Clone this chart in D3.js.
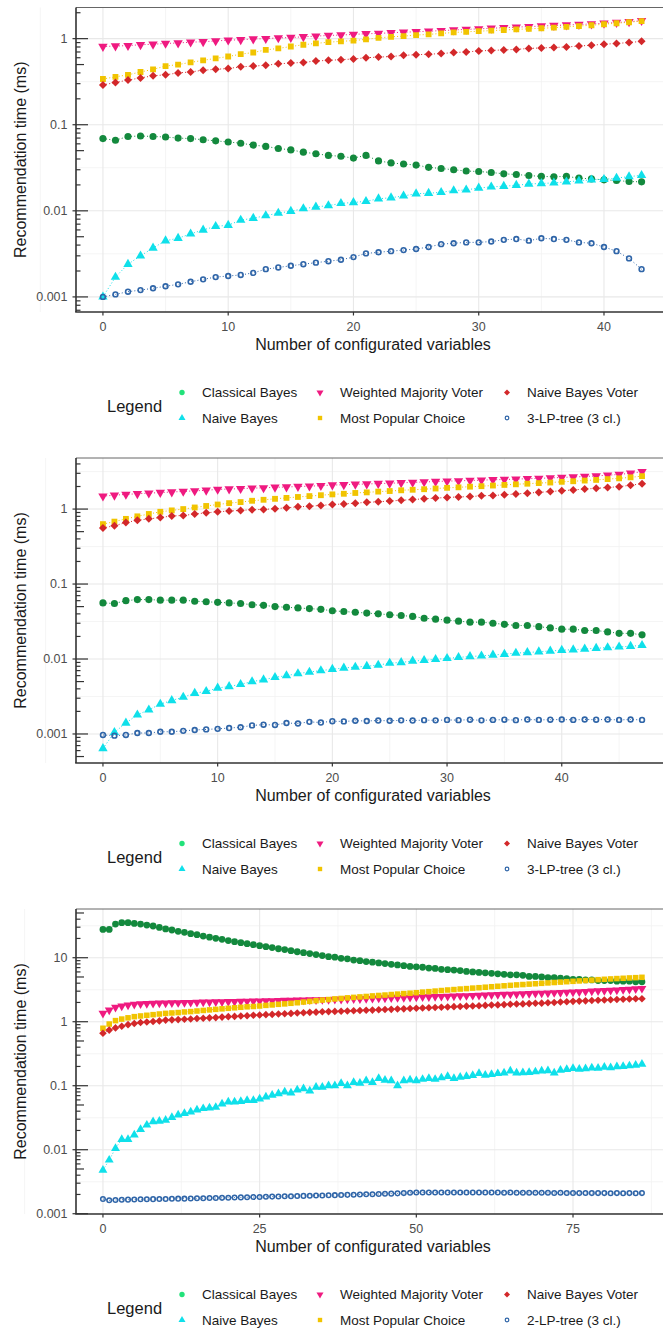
<!DOCTYPE html>
<html>
<head>
  <meta charset="utf-8">
  <title></title>
  <script src="https://cdn.jsdelivr.net/npm/d3@7/dist/d3.min.js"></script>
  <style>
    body { margin: 0; background: #fff; }
    svg { display: block; font-family: "Liberation Sans", Arial, sans-serif; }
    .tick-label { fill: #4d4d4d; font-size: 12.5px; }
    .axis-title { fill: #1a1a1a; font-size: 16px; }
    .legend-text { fill: #1a1a1a; font-size: 13.5px; }
    .legend-title { fill: #1a1a1a; font-size: 16.5px; }
  </style>
</head>
<body>
<div id="chart"></div>
<script>

// ---- data: panel 1 (x = 0..43) ----
var p1X = d3.range(0, 44);
var p1ClassicalBayes = [0.069,0.066,0.073,0.074,0.073,0.072,0.070,0.069,0.067,0.065,0.063,0.061,0.058,0.056,0.053,0.051,0.048,0.046,0.044,0.043,0.041,0.044,0.038,0.036,0.035,0.034,0.032,0.031,0.030,0.029,0.0286,0.0279,0.0269,0.0264,0.0257,0.0251,0.0249,0.0251,0.024,0.0235,0.0229,0.0225,0.0219,0.0217];
var p1NaiveBayes = [0.001,0.0017,0.0024,0.003,0.0037,0.0045,0.0048,0.0054,0.006,0.0066,0.0068,0.0078,0.0082,0.0088,0.0094,0.0099,0.0106,0.0111,0.0115,0.0122,0.0125,0.0129,0.0138,0.0142,0.0149,0.0158,0.016,0.0164,0.0172,0.0175,0.0184,0.019,0.0193,0.0198,0.0205,0.0208,0.0211,0.0217,0.0223,0.0229,0.0232,0.024,0.025,0.0258];
var p1WeightedMajority = [0.81,0.82,0.83,0.85,0.86,0.88,0.89,0.91,0.92,0.94,0.96,0.97,0.99,1.0,1.02,1.03,1.05,1.07,1.09,1.1,1.12,1.14,1.15,1.17,1.19,1.2,1.22,1.24,1.26,1.28,1.3,1.32,1.34,1.36,1.38,1.4,1.42,1.44,1.46,1.48,1.51,1.54,1.57,1.62];
var p1MostPopular = [0.34,0.36,0.38,0.41,0.44,0.48,0.5,0.53,0.56,0.59,0.62,0.66,0.69,0.74,0.77,0.81,0.85,0.88,0.91,0.93,0.95,0.98,1.02,1.05,1.07,1.1,1.12,1.15,1.18,1.2,1.22,1.24,1.26,1.28,1.3,1.32,1.34,1.37,1.4,1.43,1.47,1.51,1.55,1.6];
var p1NaiveVoter = [0.29,0.31,0.33,0.35,0.37,0.38,0.4,0.41,0.43,0.44,0.45,0.47,0.48,0.49,0.51,0.52,0.53,0.55,0.56,0.57,0.58,0.6,0.61,0.62,0.64,0.65,0.66,0.67,0.69,0.7,0.72,0.73,0.74,0.75,0.77,0.78,0.79,0.8,0.82,0.84,0.86,0.88,0.9,0.93];
var p1LPTree = [0.001,0.00107,0.00115,0.0012,0.00126,0.00133,0.0014,0.0015,0.0016,0.0017,0.00175,0.0018,0.0019,0.0021,0.0022,0.0023,0.0024,0.0025,0.0026,0.0027,0.0029,0.0032,0.0033,0.0034,0.0035,0.0036,0.0038,0.0041,0.0042,0.0043,0.0043,0.0044,0.0046,0.0047,0.0045,0.0048,0.0047,0.0046,0.0043,0.0042,0.0038,0.0034,0.0028,0.0021];

// ---- data: panel 2 (x = 0..47) ----
var p2X = d3.range(0, 48);
var p2ClassicalBayes = [0.056,0.055,0.06,0.062,0.062,0.061,0.061,0.061,0.059,0.058,0.057,0.056,0.055,0.053,0.052,0.05,0.049,0.048,0.047,0.046,0.044,0.043,0.042,0.041,0.04,0.039,0.038,0.037,0.035,0.034,0.033,0.032,0.031,0.031,0.03,0.029,0.028,0.028,0.027,0.026,0.025,0.025,0.024,0.024,0.023,0.022,0.022,0.021];
var p2NaiveBayes = [0.00064,0.00105,0.0014,0.0018,0.0021,0.0025,0.0028,0.0031,0.0035,0.0037,0.0041,0.0043,0.0046,0.005,0.0053,0.0057,0.006,0.0064,0.0067,0.007,0.0073,0.0076,0.0078,0.008,0.0083,0.0088,0.009,0.0094,0.0096,0.0099,0.0102,0.0105,0.0108,0.011,0.0113,0.0116,0.012,0.0122,0.0125,0.0128,0.0131,0.0133,0.0136,0.0139,0.0142,0.0145,0.0148,0.0152];
var p2WeightedMajority = [1.49,1.53,1.57,1.6,1.63,1.66,1.69,1.72,1.75,1.78,1.83,1.85,1.87,1.9,1.92,1.95,1.97,2.0,2.02,2.05,2.09,2.11,2.14,2.16,2.19,2.21,2.24,2.27,2.3,2.33,2.36,2.38,2.41,2.43,2.46,2.48,2.51,2.54,2.57,2.6,2.64,2.68,2.72,2.77,2.83,2.9,3.0,3.15];
var p2MostPopular = [0.63,0.68,0.74,0.8,0.86,0.92,0.96,1.0,1.05,1.1,1.15,1.2,1.24,1.29,1.33,1.37,1.41,1.45,1.49,1.53,1.57,1.6,1.64,1.67,1.71,1.74,1.78,1.81,1.84,1.88,1.92,1.95,1.99,2.02,2.06,2.1,2.14,2.18,2.22,2.26,2.31,2.35,2.4,2.45,2.51,2.57,2.65,2.75];
var p2NaiveVoter = [0.56,0.6,0.66,0.71,0.74,0.77,0.81,0.82,0.86,0.89,0.92,0.94,0.96,0.98,0.99,1.01,1.04,1.07,1.09,1.12,1.15,1.17,1.2,1.23,1.25,1.28,1.31,1.34,1.37,1.4,1.43,1.45,1.47,1.5,1.52,1.55,1.59,1.63,1.67,1.71,1.76,1.8,1.85,1.89,1.94,1.99,2.08,2.18];
var p2LPTree = [0.00097,0.00095,0.00097,0.00103,0.00103,0.00107,0.00107,0.0011,0.00113,0.00115,0.00117,0.0012,0.00123,0.0013,0.00133,0.00132,0.0014,0.00138,0.00145,0.00142,0.00148,0.00147,0.0015,0.00149,0.00151,0.0015,0.00152,0.00151,0.00153,0.00152,0.00154,0.00153,0.00155,0.00152,0.00154,0.00155,0.00153,0.00156,0.00154,0.00155,0.00156,0.00154,0.00156,0.00155,0.00156,0.00154,0.00156,0.00154];

// ---- data: panel 3 (x = 0..86) ----
var p3X = d3.range(0, 87);
var p3ClassicalBayes = [27.7,27.7,33.6,35.3,35.3,34.4,33.6,32.4,31.3,29.7,28.2,27.1,25.8,24.9,23.7,22.9,21.8,20.9,20.1,19.4,18.5,17.8,17.2,16.6,16.0,15.4,14.9,14.4,13.8,13.4,12.9,12.4,12.0,11.6,11.2,10.8,10.4,10.2,9.8,9.6,9.2,9.0,8.7,8.5,8.3,8.1,7.9,7.7,7.5,7.3,7.2,7.1,6.9,6.8,6.6,6.5,6.4,6.3,6.1,6.0,5.9,5.8,5.7,5.6,5.5,5.4,5.4,5.3,5.1,5.1,5.0,4.9,4.9,4.8,4.7,4.6,4.6,4.5,4.5,4.4,4.4,4.4,4.3,4.3,4.3,4.2,4.2];
var p3NaiveBayes = [0.0048,0.0069,0.0105,0.0145,0.0145,0.017,0.0208,0.0243,0.0274,0.028,0.029,0.032,0.035,0.037,0.039,0.042,0.044,0.045,0.046,0.052,0.056,0.056,0.057,0.059,0.059,0.062,0.067,0.071,0.075,0.08,0.077,0.086,0.09,0.083,0.095,0.095,0.1,0.1,0.109,0.1,0.113,0.11,0.12,0.113,0.13,0.122,0.12,0.1,0.12,0.123,0.12,0.126,0.13,0.126,0.133,0.14,0.13,0.136,0.14,0.145,0.156,0.146,0.15,0.155,0.158,0.17,0.158,0.16,0.162,0.165,0.17,0.172,0.158,0.175,0.18,0.187,0.182,0.185,0.19,0.188,0.195,0.192,0.198,0.2,0.205,0.21,0.218];
var p3WeightedMajority = [1.35,1.52,1.68,1.76,1.82,1.87,1.9,1.92,1.94,1.95,1.96,1.97,1.98,1.99,2.0,2.01,2.02,2.03,2.04,2.05,2.06,2.07,2.08,2.09,2.1,2.11,2.12,2.13,2.14,2.15,2.16,2.17,2.18,2.19,2.2,2.21,2.22,2.23,2.24,2.25,2.27,2.28,2.3,2.31,2.33,2.34,2.36,2.37,2.39,2.4,2.42,2.44,2.45,2.47,2.48,2.5,2.52,2.53,2.55,2.57,2.59,2.61,2.63,2.65,2.67,2.69,2.71,2.73,2.75,2.77,2.79,2.81,2.84,2.86,2.89,2.91,2.94,2.97,3.0,3.03,3.06,3.09,3.13,3.17,3.21,3.26,3.31];
var p3MostPopular = [0.79,0.92,1.04,1.1,1.15,1.2,1.23,1.26,1.29,1.32,1.35,1.37,1.39,1.42,1.44,1.47,1.5,1.53,1.56,1.59,1.62,1.65,1.68,1.71,1.73,1.76,1.8,1.83,1.87,1.9,1.94,1.98,2.03,2.08,2.13,2.18,2.22,2.27,2.31,2.36,2.4,2.44,2.48,2.53,2.57,2.61,2.66,2.7,2.75,2.79,2.84,2.9,2.95,3.01,3.07,3.13,3.18,3.24,3.29,3.35,3.4,3.46,3.52,3.58,3.64,3.7,3.76,3.81,3.87,3.92,3.98,4.04,4.1,4.16,4.22,4.28,4.34,4.41,4.47,4.54,4.6,4.66,4.72,4.77,4.83,4.88,4.94];
var p3NaiveVoter = [0.66,0.74,0.8,0.85,0.9,0.94,0.97,0.99,1.01,1.03,1.06,1.07,1.08,1.09,1.1,1.12,1.13,1.15,1.16,1.18,1.2,1.21,1.23,1.24,1.26,1.27,1.29,1.3,1.32,1.33,1.35,1.37,1.38,1.4,1.41,1.43,1.44,1.45,1.46,1.47,1.48,1.5,1.51,1.52,1.54,1.55,1.56,1.58,1.59,1.61,1.62,1.64,1.65,1.67,1.68,1.7,1.72,1.73,1.75,1.76,1.78,1.8,1.82,1.83,1.85,1.87,1.89,1.9,1.92,1.94,1.95,1.98,2.0,2.03,2.05,2.08,2.1,2.12,2.14,2.16,2.18,2.2,2.22,2.24,2.26,2.28,2.29];
var p3LPTree = [0.0017,0.00162,0.00164,0.00165,0.00166,0.00167,0.00168,0.00168,0.00169,0.0017,0.0017,0.00171,0.00172,0.00172,0.00173,0.00174,0.00175,0.00176,0.00176,0.00177,0.00178,0.00179,0.0018,0.00181,0.00182,0.00183,0.00184,0.00185,0.00186,0.00187,0.00188,0.00189,0.0019,0.00191,0.00192,0.00193,0.00194,0.00195,0.00196,0.00197,0.00198,0.002,0.00201,0.00202,0.00203,0.00205,0.00206,0.00208,0.0021,0.00212,0.00214,0.00215,0.00214,0.00215,0.00214,0.00215,0.00215,0.00214,0.00215,0.00214,0.00214,0.00215,0.00214,0.00214,0.00213,0.00214,0.00213,0.00213,0.00212,0.00213,0.00212,0.00212,0.00211,0.00212,0.00211,0.00211,0.0021,0.00211,0.0021,0.0021,0.0021,0.00209,0.0021,0.00209,0.0021,0.00209,0.0021];

// ---- ticks and labels ----
var p12XTicks = [0, 10, 20, 30, 40];
var p3XTicks = [0, 25, 50, 75];
var p12YTicks = [0.001, 0.01, 0.1, 1];
var p12YLabels = ['0.001', '0.01', '0.1', '1'];
var p3YTicks = [0.001, 0.01, 0.1, 1, 10];
var p3YLabels = ['0.001', '0.01', '0.1', '1', '10'];
var seriesNames = ['Classical Bayes', 'Naive Bayes', 'Weighted Majority Voter', 'Most Popular Choice', 'Naive Bayes Voter'];
var treeNames = ['3-LP-tree (3 cl.)', '3-LP-tree (3 cl.)', '2-LP-tree (3 cl.)'];

var W = 663, H = 1334;
var svg = d3.select('#chart').append('svg').attr('width', W).attr('height', H);

// styles for the six series: plot colour, legend colour, shape
var styles = [
  { color: '#13893d', key: '#22e27a', shape: 'circle' },
  { color: '#0fe0ea', key: '#0fe0ea', shape: 'up' },
  { color: '#ef1a80', key: '#ef1a80', shape: 'down' },
  { color: '#f1c400', key: '#f1c400', shape: 'square' },
  { color: '#d3282a', key: '#d3282a', shape: 'diamond' },
  { color: '#2f65a8', key: '#2f65a8', shape: 'open' }
];

function symbolPath(shape, s) {
  // s = scale factor (1 -> ~7px mark)
  if (shape === 'circle') return d3.symbol(d3.symbolCircle, 40 * s * s)();
  if (shape === 'open') return d3.symbol(d3.symbolCircle, 18 * s * s)();
  if (shape === 'up' || shape === 'down') return d3.symbol(d3.symbolTriangle, 38 * s * s)();
  if (shape === 'square') return d3.symbol(d3.symbolSquare, 34 * s * s)();
  return d3.symbol(d3.symbolSquare, 32 * s * s)();
}
function symbolRot(shape) {
  if (shape === 'down') return ' rotate(180)';
  if (shape === 'diamond') return ' rotate(45)';
  return '';
}
function drawMark(g, shape, color, x, y, s) {
  var p = g.append('path')
    .attr('d', symbolPath(shape, s))
    .attr('transform', 'translate(' + x + ',' + y + ')' + symbolRot(shape));
  if (shape === 'open') {
    p.attr('fill', 'none').attr('stroke', color).attr('stroke-width', 1.6 * s);
  } else {
    p.attr('fill', color);
  }
}

function drawPanel(cfg) {
  var left = 76, right = 700;
  var x = d3.scaleLinear().domain(cfg.xDomain).range([left, cfg.xRight]);
  var y = d3.scaleLog().domain(cfg.yDomain).range([cfg.bottom, cfg.top]);
  var g = svg.append('g');

  var lo = Math.floor(Math.log10(cfg.yDomain[0])), hi = Math.ceil(Math.log10(cfg.yDomain[1]));

  // grid: minor first
  var xMinor = cfg.xTicks.map(function (t) { return t + cfg.xStep / 2; })
    .concat([cfg.xTicks[0] - cfg.xStep / 2]);
  xMinor.forEach(function (t) {
    g.append('line').attr('x1', x(t)).attr('x2', x(t)).attr('y1', cfg.top).attr('y2', cfg.bottom)
      .attr('stroke', '#f3f3f3').attr('stroke-width', 0.8);
  });
  for (var k = lo; k <= hi; k++) {
    var v = Math.pow(10, k + 0.5);
    if (v > cfg.yDomain[0] && v < cfg.yDomain[1]) {
      g.append('line').attr('x1', left).attr('x2', right).attr('y1', y(v)).attr('y2', y(v))
        .attr('stroke', '#f3f3f3').attr('stroke-width', 0.8);
    }
  }
  cfg.xTicks.forEach(function (t) {
    g.append('line').attr('x1', x(t)).attr('x2', x(t)).attr('y1', cfg.top).attr('y2', cfg.bottom)
      .attr('stroke', '#e8e8e8').attr('stroke-width', 1.1);
  });
  cfg.yTicks.forEach(function (t) {
    g.append('line').attr('x1', left).attr('x2', right).attr('y1', y(t)).attr('y2', y(t))
      .attr('stroke', '#e8e8e8').attr('stroke-width', 1.1);
  });

  // series: dotted lines then marks
  var clip = 'clip' + cfg.id;
  svg.append('clipPath').attr('id', clip).append('rect')
    .attr('x', left).attr('y', cfg.top).attr('width', W - left).attr('height', cfg.bottom - cfg.top);
  var plot = g.append('g').attr('clip-path', 'url(#' + clip + ')');
  var line = d3.line().x(function (d) { return x(d[0]); }).y(function (d) { return y(d[1]); });

  cfg.series.forEach(function (vals, si) {
    var pts = cfg.xs.map(function (xv, i) { return [xv, vals[i]]; });
    plot.append('path').datum(pts).attr('d', line)
      .attr('fill', 'none').attr('stroke', styles[si].color)
      .attr('stroke-width', 1).attr('stroke-dasharray', '1,2.2');
  });
  cfg.series.forEach(function (vals, si) {
    var st = styles[si];
    cfg.xs.forEach(function (xv, i) {
      drawMark(plot, st.shape, st.color, x(xv), y(vals[i]), cfg.markScale);
    });
  });

  // log ticks inside the panel
  for (var k2 = lo; k2 <= hi; k2++) {
    for (var m = 1; m <= 9; m++) {
      var tv = m * Math.pow(10, k2);
      if (tv < cfg.yDomain[0] || tv > cfg.yDomain[1]) continue;
      var len = m === 1 ? 12 : (m === 5 ? 8 : 4.5);
      g.append('line').attr('x1', left).attr('x2', left + len).attr('y1', y(tv)).attr('y2', y(tv))
        .attr('stroke', '#333').attr('stroke-width', 1.2);
    }
  }

  // panel border (top) and axis lines
  g.append('line').attr('x1', left).attr('x2', right).attr('y1', cfg.top).attr('y2', cfg.top)
    .attr('stroke', '#666').attr('stroke-width', 1);
  g.append('line').attr('x1', left).attr('x2', left).attr('y1', cfg.top).attr('y2', cfg.bottom)
    .attr('stroke', '#333').attr('stroke-width', 1.6);
  g.append('line').attr('x1', left - 0.8).attr('x2', right).attr('y1', cfg.bottom).attr('y2', cfg.bottom)
    .attr('stroke', '#333').attr('stroke-width', 1.6);

  // y ticks + labels
  cfg.yTicks.forEach(function (t, i) {
    g.append('line').attr('x1', left - 3.5).attr('x2', left).attr('y1', y(t)).attr('y2', y(t))
      .attr('stroke', '#333').attr('stroke-width', 1.2);
    g.append('text').attr('class', 'tick-label').attr('x', left - 8.5).attr('y', y(t))
      .attr('text-anchor', 'end').attr('dominant-baseline', 'central').text(cfg.yLabels[i]);
  });
  // x ticks + labels
  cfg.xTicks.forEach(function (t) {
    g.append('line').attr('x1', x(t)).attr('x2', x(t)).attr('y1', cfg.bottom).attr('y2', cfg.bottom + 3.5)
      .attr('stroke', '#333').attr('stroke-width', 1.2);
    g.append('text').attr('class', 'tick-label').attr('x', x(t)).attr('y', cfg.bottom + 14.5)
      .attr('text-anchor', 'middle').attr('dominant-baseline', 'central').text(t);
  });

  // titles
  g.append('text').attr('class', 'axis-title').attr('x', 373).attr('y', cfg.bottom + 32.5)
    .attr('text-anchor', 'middle').attr('dominant-baseline', 'central').text('Number of configurated variables');
  g.append('text').attr('class', 'axis-title')
    .attr('transform', 'translate(20,' + ((cfg.top + cfg.bottom) / 2) + ') rotate(-90)')
    .attr('text-anchor', 'middle').attr('dominant-baseline', 'central').text('Recommendation time (ms)');

  // legend
  var r1 = cfg.bottom + 80.5, r2 = cfg.bottom + 106;
  g.append('text').attr('class', 'legend-title').attr('x', 107).attr('y', (r1 + r2) / 2 + 1)
    .attr('dominant-baseline', 'central').text('Legend');
  var names = seriesNames.concat([cfg.treeName]);
  var slots = [[182, r1], [182, r2], [320, r1], [320, r2], [507, r1], [507, r2]];
  names.forEach(function (name, i) {
    var st = styles[i];
    drawMark(g, st.shape, st.key, slots[i][0], slots[i][1], 0.75);
    g.append('text').attr('class', 'legend-text').attr('x', slots[i][0] + 20).attr('y', slots[i][1])
      .attr('dominant-baseline', 'central').text(name);
  });
}

drawPanel({
  id: 1, top: 7.5, bottom: 312, xDomain: [-2.15, 45.15], xRight: 668.5, xStep: 10,
  yDomain: [0.000668, 2.3], xs: p1X, xTicks: p12XTicks, yTicks: p12YTicks, yLabels: p12YLabels,
  series: [p1ClassicalBayes, p1NaiveBayes, p1WeightedMajority, p1MostPopular, p1NaiveVoter, p1LPTree],
  treeName: treeNames[0], markScale: 1
});
drawPanel({
  id: 2, top: 458, bottom: 763, xDomain: [-2.35, 49.35], xRight: 669, xStep: 10,
  yDomain: [0.00041, 4.8], xs: p2X, xTicks: p12XTicks, yTicks: p12YTicks, yLabels: p12YLabels,
  series: [p2ClassicalBayes, p2NaiveBayes, p2WeightedMajority, p2MostPopular, p2NaiveVoter, p2LPTree],
  treeName: treeNames[1], markScale: 1
});
drawPanel({
  id: 3, top: 909, bottom: 1214, xDomain: [-4.3, 90.3], xRight: 668.9, xStep: 25,
  yDomain: [0.00099, 57.7], xs: p3X, xTicks: p3XTicks, yTicks: p3YTicks, yLabels: p3YLabels,
  series: [p3ClassicalBayes, p3NaiveBayes, p3WeightedMajority, p3MostPopular, p3NaiveVoter, p3LPTree],
  treeName: treeNames[2], markScale: 0.95
});

</script>
</body>
</html>
